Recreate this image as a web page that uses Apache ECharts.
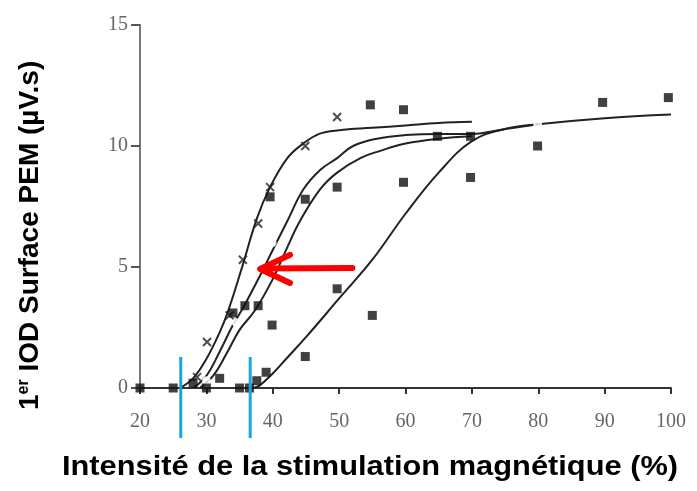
<!DOCTYPE html>
<html><head><meta charset="utf-8">
<script src="https://cdn.jsdelivr.net/npm/echarts@6/dist/echarts.min.js"></script>
<style>html,body{margin:0;padding:0;background:#fff}#c{width:697px;height:491px}</style>
</head><body><div id="c"></div>
<script>
// x ticks and y ticks
const xTicks = [20,30,40,50,60,70,80,90,100];
const yTicks = [0,5,10,15];

// fitted curves
const curveA = [[26,0],[28,0.4],[30,1.2],[32,2.3],[33.3,3.2],[35.5,5.1],[37.6,7.0],[39.6,8.3],[42.2,9.5],[44.6,10.1],[47,10.5],[50,10.65],[55,10.75],[60,10.85],[65,10.95],[70,11.0]];
const curveB = [[28,0],[30,0.5],[32,1.5],[34,2.6],[35.5,3.3],[38,4.6],[40,5.7],[42.2,6.9],[44.6,8.2],[47.1,9.0],[49.7,9.5],[52.1,10.0],[55.7,10.3],[60,10.45],[65,10.5],[70,10.5],[75,10.7],[80,10.9]];
const curveC = [[29,0],[31,0.5],[33,1.4],[35,2.4],[37.3,3.2],[40,4.5],[42,5.7],[44.1,6.9],[47.1,8.2],[49.7,8.9],[53.2,9.5],[56.2,9.8],[60,10.1],[65,10.3],[70,10.4]];
const curveD = [[37,0],[38,0.1],[40,0.6],[42,1.2],[45,2.1],[50,3.7],[55,5.3],[60,7.2],[65,8.9],[70,10.2],[75,10.7],[80,10.9],[90,11.15],[100,11.3]];

// data points
const crossPts = [[28.6,0.45],[30.1,1.9],[33.5,3.0],[35.5,5.3],[37.8,6.8],[39.6,8.3],[44.9,10.0],[49.7,11.2]];
const circlePts = [[30,0.3],[34.5,2.7],[39.9,6.0],[39.5,2.7],[59.7,9.4],[69.8,11.35],[79.9,10.9]];
const squarePts = [[20,0],[25,0],[28,0.2],[30,0],[32,0.4],[34,3.1],[35.8,3.4],[37.8,3.4],[39.9,2.6],[39.6,7.9],[44.9,7.8],[49.7,8.3],[54.7,11.7],[59.7,11.5],[64.8,10.4],[69.8,10.4],[59.7,8.5],[69.8,8.7],[79.9,10.0],[89.7,11.8],[99.6,12.0]];
const squarePts2 = [[35,0],[36.5,0],[37.6,0.3],[39,0.65],[44.9,1.3],[49.7,4.1],[55,3.0]];

// annotations
const blueLine1 = [[26.14,1.28],[26.14,-2.07]];
const blueLine2 = [[36.6,1.28],[36.6,-2.07]];
const arrowShaft = [[52,4.96],[38.8,4.94]];
const arrowHead = [[42.6,5.5],[38.1,4.92],[42.6,4.34]];

const chart = echarts.init(document.getElementById('c'));
const crossPath = 'path://M0,0L10,10M10,0L0,10';
const curveStyle = {color:'#222', width:2};
function curve(d){return {type:'line', data:d, smooth:0.4, showSymbol:false, lineStyle:curveStyle, silent:true, z:2};}
chart.setOption({
  animation:false,
  grid:{left:140, right:26, top:25, bottom:103},
  xAxis:{type:'value', min:20, max:100, interval:10,
    axisLine:{lineStyle:{color:'#333', width:2}},
    axisTick:{length:6, lineStyle:{color:'#333', width:2}},
    splitLine:{show:false},
    axisLabel:{fontFamily:'Liberation Serif', fontSize:20, color:'#666', margin:24}},
  yAxis:{type:'value', min:0, max:15, interval:5,
    axisLine:{show:true, lineStyle:{color:'#777', width:2}},
    axisTick:{show:true, length:9, lineStyle:{color:'#555', width:2}},
    splitLine:{show:false},
    axisLabel:{fontFamily:'Liberation Serif', fontSize:20, color:'#666', margin:12}},
  graphic:[
    {type:'text', x:370, y:467, scaleX:1.1, originX:0, originY:0,
      style:{text:'Intensité de la stimulation magnétique (%)', font:'bold 28px "Liberation Sans", Arial', fill:'#000', align:'center', verticalAlign:'middle'}},
    {type:'text', x:16, y:410, rotation:Math.PI/2,
      style:{text:'{a|1}{s|er}{a| IOD Surface PEM (µV.s)}', rich:{a:{font:'bold 28px "Liberation Sans", Arial', fill:'#000', verticalAlign:'bottom'}, s:{font:'bold 16px "Liberation Sans", Arial', fill:'#000', verticalAlign:'top', padding:[0,0,12,0]}}, fill:'#000'}}
  ],
  series:[
    curve(curveA), curve(curveB), curve(curveC), curve(curveD),
    {type:'scatter', data:crossPts, symbol:crossPath, symbolSize:8, itemStyle:{color:'none', borderColor:'#222', borderWidth:2}, z:3},
    {type:'scatter', data:circlePts, symbol:'emptyCircle', symbolSize:7, itemStyle:{color:'#fff', borderColor:'#333', borderWidth:1.5}, z:3},
    {type:'scatter', data:squarePts, symbol:'rect', symbolSize:9, itemStyle:{color:'#111'}, z:3},
    {type:'scatter', data:squarePts2, symbol:'rect', symbolSize:9, itemStyle:{color:'#111'}, z:3},
    {type:'line', data:blueLine1, showSymbol:false, clip:false, lineStyle:{color:'#1aa3e8', width:3}, z:5},
    {type:'line', data:blueLine2, showSymbol:false, clip:false, lineStyle:{color:'#1aa3e8', width:3}, z:5},
    {type:'line', data:arrowShaft, showSymbol:false, clip:false, lineStyle:{color:'#f00', width:6, cap:'round'}, z:6},
    {type:'line', data:arrowHead, showSymbol:false, clip:false, lineStyle:{color:'#f00', width:6, cap:'round', join:'round'}, z:6}
  ]
});
</script></body></html>
